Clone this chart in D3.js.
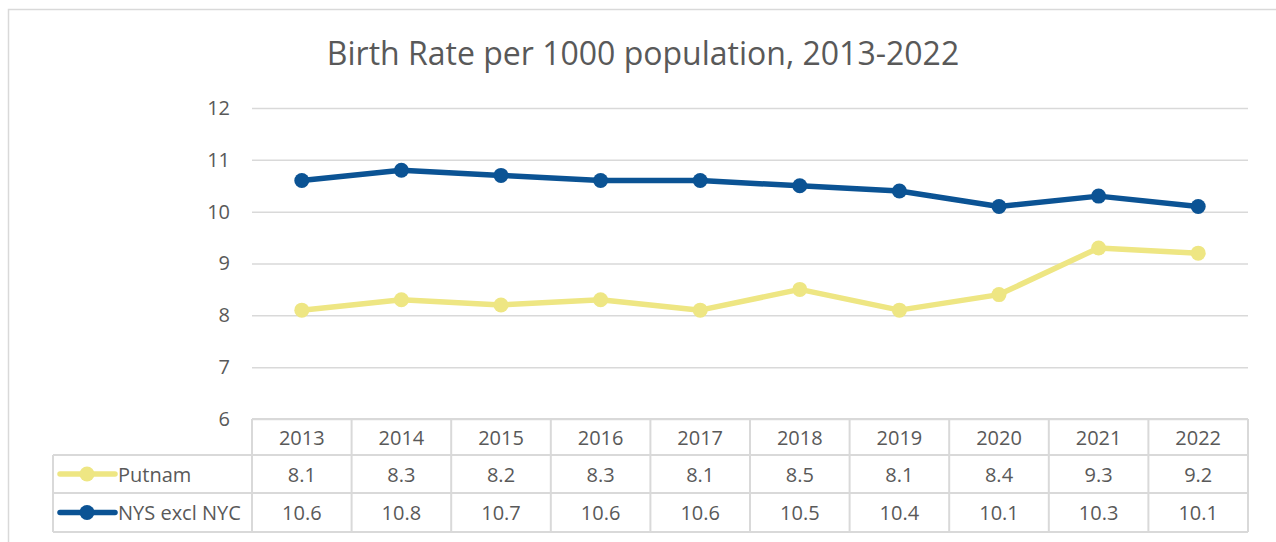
<!DOCTYPE html>
<html>
<head>
<meta charset="utf-8">
<script src="https://cdn.jsdelivr.net/npm/d3@7"></script>
<style>
  html, body { margin: 0; padding: 0; background: #fff; }
  svg { display: block; }
  text { font-family: "Open Sans", sans-serif; fill: #595959; }
</style>
</head>
<body>
<svg id="chart" width="1276" height="542"></svg>
<script>
const years = ["2013","2014","2015","2016","2017","2018","2019","2020","2021","2022"];
const putnam = [8.1, 8.3, 8.2, 8.3, 8.1, 8.5, 8.1, 8.4, 9.3, 9.2];
const nys = [10.6, 10.8, 10.7, 10.6, 10.6, 10.5, 10.4, 10.1, 10.3, 10.1];
const yTicks = [6, 7, 8, 9, 10, 11, 12];
const seriesNames = ["Putnam", "NYS excl NYC"];
const seriesColors = ["#EEE683", "#0B5394"];
const title = "Birth Rate per 1000 population, 2013-2022";

const series = [
  { name: seriesNames[0], values: putnam, color: seriesColors[0] },
  { name: seriesNames[1], values: nys, color: seriesColors[1] }
];

const svg = d3.select("#chart");
const gridColor = "#d9d9d9";

const plotLeft = 252, plotRight = 1248, plotTop = 108, plotBottom = 419;
const tableLeft = 53;
const rowEdges = [419, 455, 493, 532];
const fs = "20px";

const x = d3.scaleBand().domain(years).range([plotLeft, plotRight]);
const y = d3.scaleLinear().domain([6, 12]).range([plotBottom, plotTop]);

// outer frame
svg.append("path")
  .attr("d", "M8.5,542 L8.5,9.5 L1276,9.5")
  .attr("fill", "none").attr("stroke", gridColor).attr("stroke-width", 1.5);

// title
svg.append("text")
  .attr("x", 643).attr("y", 65)
  .attr("text-anchor", "middle")
  .style("font-size", "32px")
  .text(title);

// y axis with gridlines
const yAxis = d3.axisLeft(y).tickValues(yTicks).tickSize(-(plotRight - plotLeft)).tickPadding(22).tickFormat(d3.format("d"));
const gy = svg.append("g").attr("transform", `translate(${plotLeft},0)`).call(yAxis);
gy.select(".domain").remove();
gy.selectAll(".tick line").attr("stroke", gridColor).attr("stroke-width", 1.5);
gy.selectAll(".tick text").style("font-size", fs).attr("fill", "#595959").style("font-family", "'Open Sans', sans-serif");

// lines
const line = d3.line()
  .x((d, i) => x(years[i]) + x.bandwidth() / 2)
  .y(d => y(d));

series.forEach(s => {
  svg.append("path")
    .datum(s.values)
    .attr("d", line)
    .attr("fill", "none")
    .attr("stroke", s.color)
    .attr("stroke-width", 5.5)
    .attr("stroke-linejoin", "round");
  svg.append("g").selectAll("circle")
    .data(s.values)
    .join("circle")
    .attr("cx", (d, i) => x(years[i]) + x.bandwidth() / 2)
    .attr("cy", d => y(d))
    .attr("r", 7.5)
    .attr("fill", s.color);
});

// data table
const tg = svg.append("g");
tg.append("line").attr("x1", plotLeft).attr("x2", plotRight).attr("y1", rowEdges[0]).attr("y2", rowEdges[0]);
for (let r = 1; r < rowEdges.length; r++) {
  tg.append("line").attr("x1", tableLeft).attr("x2", plotRight).attr("y1", rowEdges[r]).attr("y2", rowEdges[r]);
}
tg.append("line").attr("x1", tableLeft).attr("x2", tableLeft).attr("y1", rowEdges[1]).attr("y2", rowEdges[3]);
const colEdges = years.map(d => x(d)).concat([plotRight]);
colEdges.forEach(cx => {
  tg.append("line").attr("x1", cx).attr("x2", cx).attr("y1", rowEdges[0]).attr("y2", rowEdges[3]);
});
tg.selectAll("line").attr("stroke", gridColor).attr("stroke-width", 2);

tg.selectAll("text.year")
  .data(years)
  .join("text")
  .attr("class", "year")
  .attr("x", d => x(d) + x.bandwidth() / 2)
  .attr("y", (rowEdges[0] + rowEdges[1]) / 2)
  .attr("text-anchor", "middle")
  .attr("dominant-baseline", "central")
  .style("font-size", fs)
  .text(d => d);

series.forEach((s, si) => {
  const cy = (rowEdges[si + 1] + rowEdges[si + 2]) / 2;
  tg.append("line").attr("x1", 60).attr("x2", 115).attr("y1", cy).attr("y2", cy)
    .attr("stroke", s.color).attr("stroke-width", 5.5).attr("stroke-linecap", "round");
  tg.append("circle").attr("cx", 87).attr("cy", cy).attr("r", 7.5).attr("fill", s.color);
  tg.append("text").attr("x", 118).attr("y", cy)
    .attr("dominant-baseline", "central")
    .style("font-size", fs)
    .text(s.name);
  tg.append("g").selectAll("text")
    .data(s.values)
    .join("text")
    .attr("x", (d, i) => x(years[i]) + x.bandwidth() / 2)
    .attr("y", cy)
    .attr("text-anchor", "middle")
    .attr("dominant-baseline", "central")
    .style("font-size", fs)
    .text(d => d3.format(".1f")(d));
});
</script>
</body>
</html>
